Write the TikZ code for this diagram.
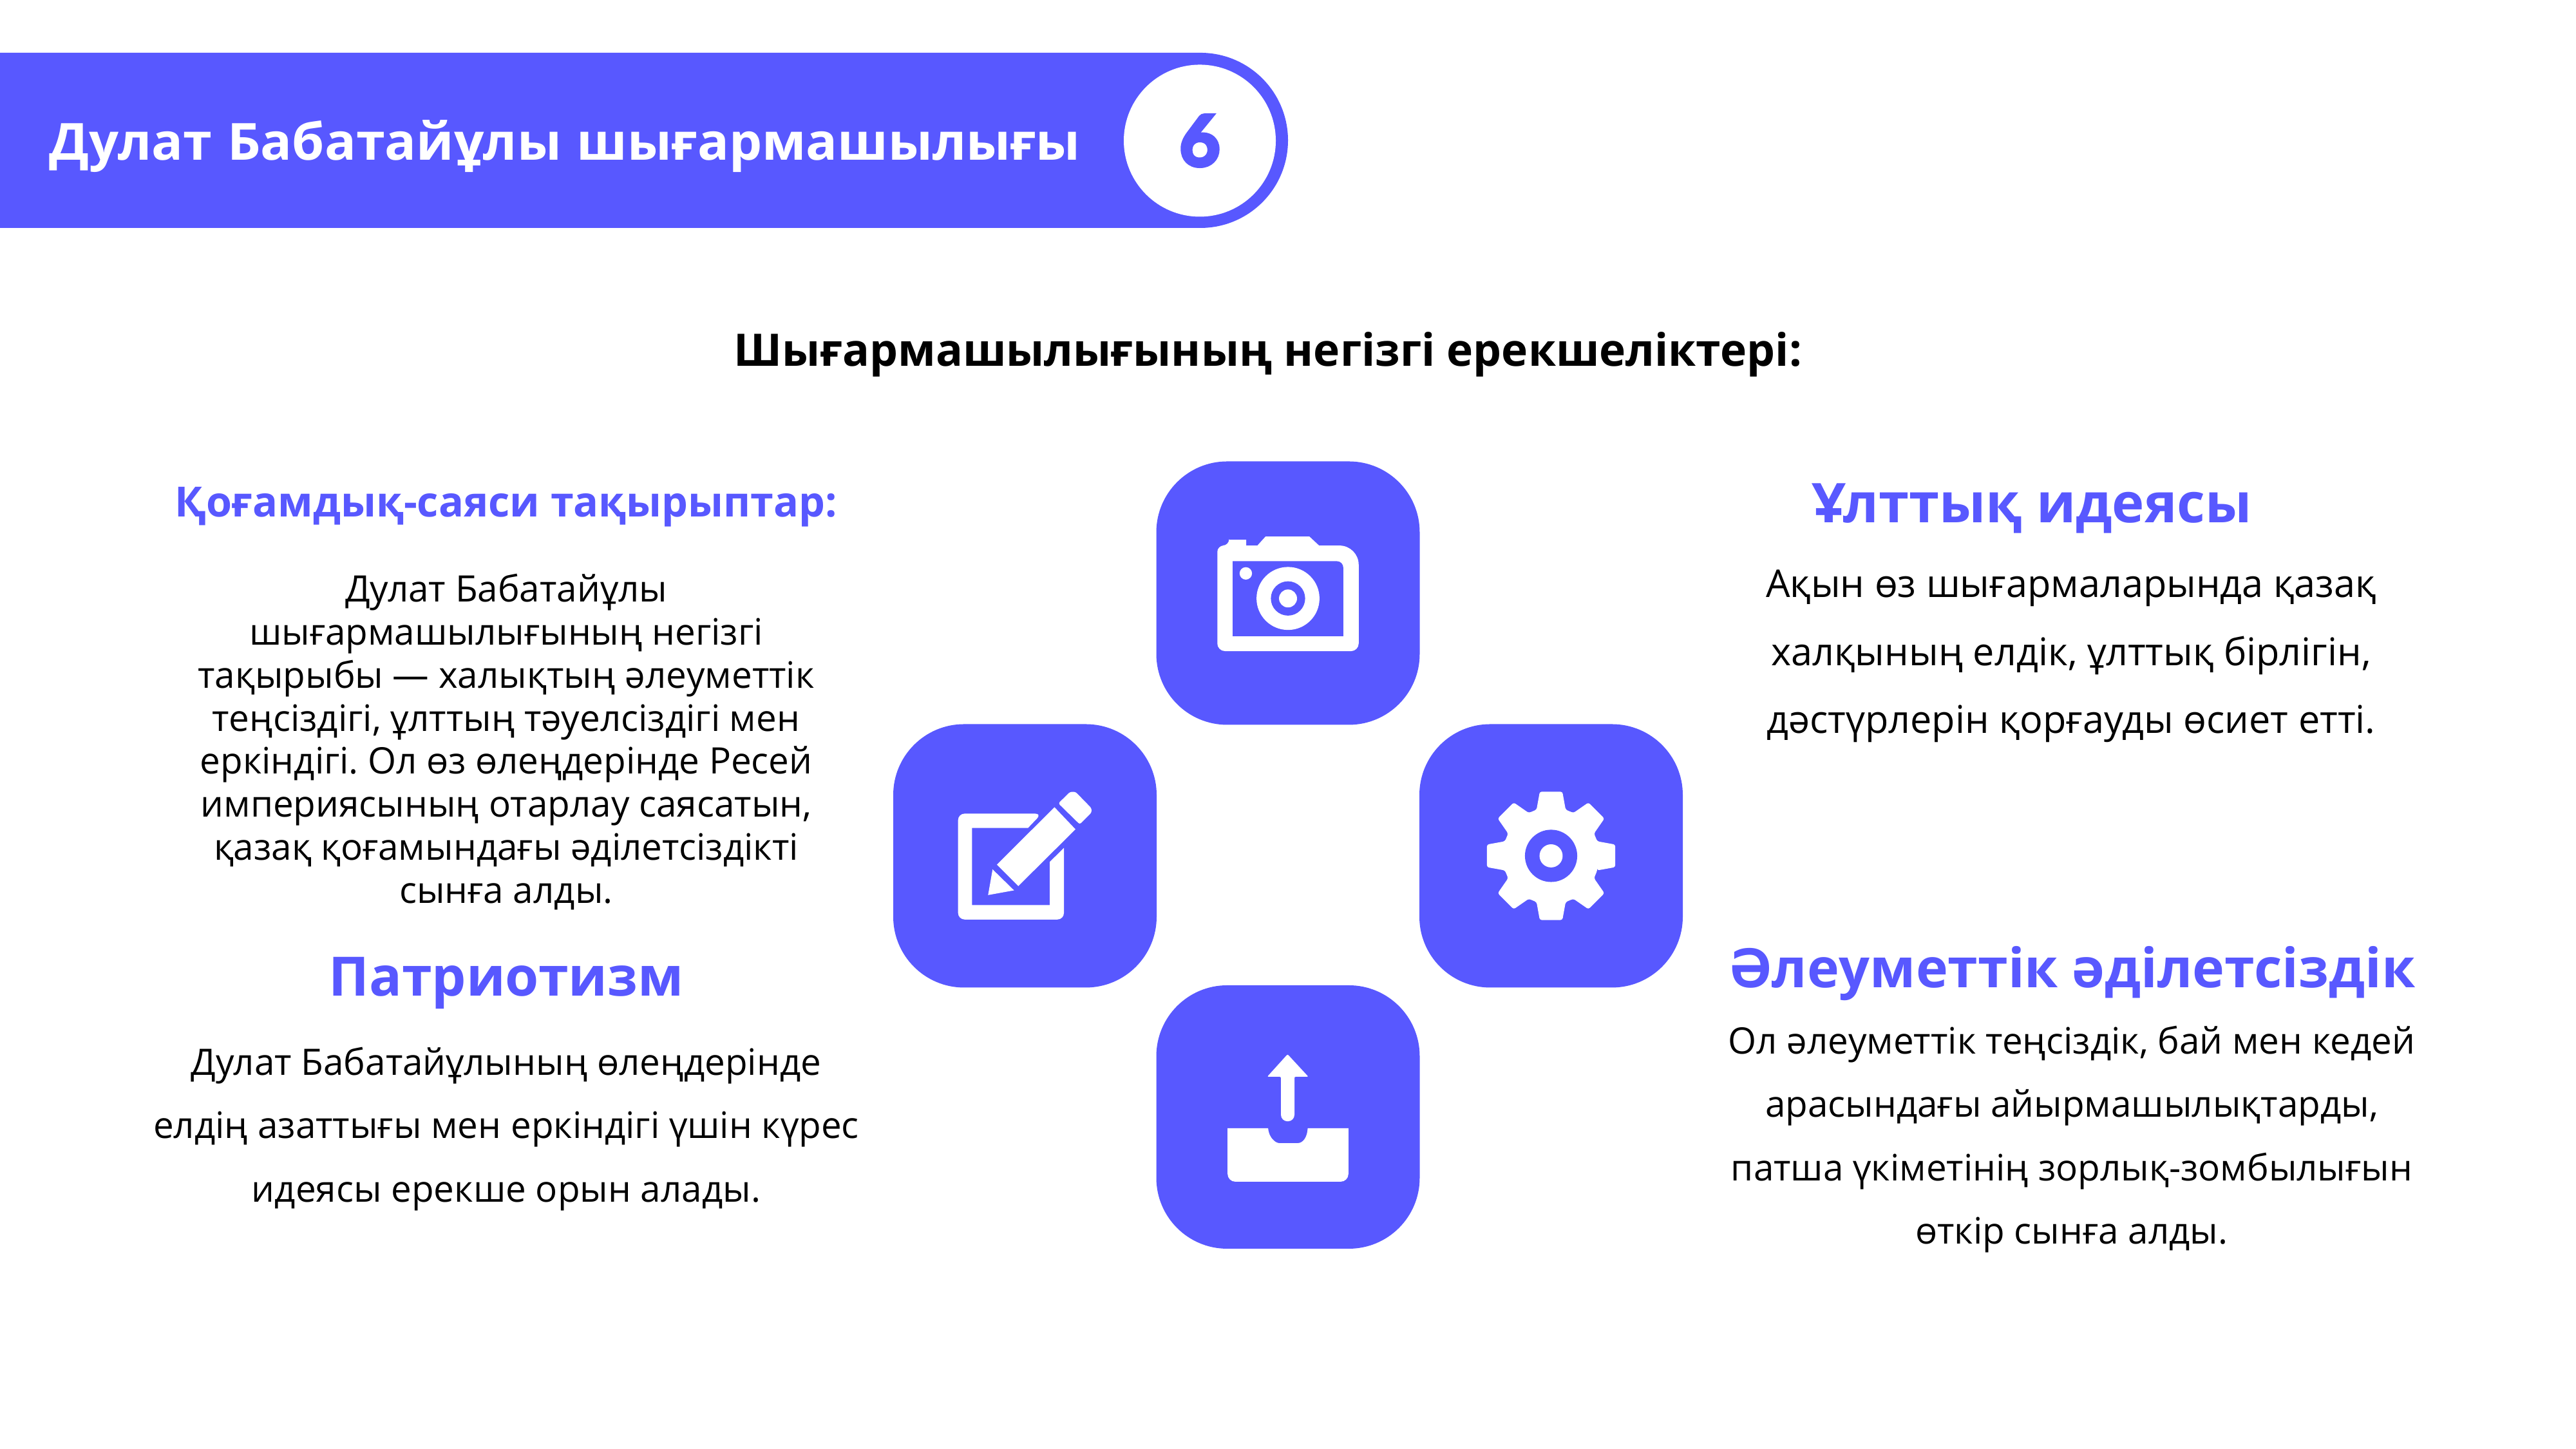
\documentclass[tikz,border=0pt]{standalone}
\usepackage{fontspec}
\setmainfont{Open Sans}
\newfontfamily\numfont{Lato}[BoldFeatures={FakeBold=5}]
\definecolor{brand}{RGB}{88,88,255}
\frenchspacing
\newcommand{\bannerfont}{\fontsize{22.6}{28}\selectfont\bfseries\spaceskip 6.7pt\relax}
\tikzset{
  icontile/.style={shape=rectangle, fill=brand, rounded corners=1.1cm, minimum size=4.09cm, inner sep=0pt},
  headtext/.style={text=brand, font=\fontsize{24}{28}\selectfont\bfseries, inner sep=0pt},
  paratext/.style={align=center, text=black, inner sep=0pt},
  iconunit/.style={x=0.003333cm, y=0.003333cm}
}
\begin{document}
\begin{tikzpicture}
\useasboundingbox (0,0) rectangle (40,22.5);
\fill[white] (0,0) rectangle (40,22.5);
% banner
\fill[brand] (0,21.68) -- (18.64,21.68) arc (90:-90:1.36) -- (0,18.96) -- cycle;
\node[shape=circle, fill=white, minimum size=2.36cm, inner sep=0pt, text=brand, font=\numfont\fontsize{31}{36}\selectfont\bfseries](num) at (18.63,20.315) {6};
\node[anchor=base west, text=white, inner sep=0pt, font=\bannerfont, xscale=1.02](banner) at (0.76,20.01) {Дулат Бабатайұлы шығармашылығы};
\node[text=black, inner sep=0pt, font=\fontsize{19.8}{25}\selectfont\bfseries](subtitle) at (19.69,17.0) {Шығармашылығының негізгі ерекшеліктері:};
% tiles
\node[icontile](camtile) at (20,13.29) {};
\node[icontile](pentile) at (15.915,9.21) {};
\node[icontile](geartile) at (24.085,9.21) {};
\node[icontile](uptile) at (20,5.155) {};
% camera
\begin{scope}[shift={(camtile.center)}, iconunit]
\fill[white, rounded corners=0.1cm] (-330,-271) -- (-330,222) -- (-275,222) [sharp corners] -- (-275,249) -- (-195,249) -- (-195,222) -- (-143,222) -- (-105,264) -- (100,264) -- (145,222) -- (240,222) arc (90:0:90) [rounded corners=0.12cm] -- (330,-271) -- cycle;
\fill[brand] (-258,149) -- (228,149) arc (90:0:30) -- (258,-201) -- (-258,-201) -- cycle;
\fill[white] (0,-25) circle (147);
\fill[brand] (0,-25) circle (80);
\fill[white] (0,-25) circle (42);
\fill[white] (-197,92) circle (29);
\end{scope}
% pencil
\begin{scope}[shift={(pentile.center)}, iconunit]
\fill[white, rounded corners=0.1cm] (78,197) [sharp corners] -- (14,130) -- (-247,130) -- (-247,-230) -- (116,-230) -- (116,-28) -- (182,37) [rounded corners=0.1cm] -- (182,-297) -- (-312,-297) -- (-312,197) -- cycle;
\fill[white] (138,227) -- (236,124) -- (-31,-141) -- (-131,-41) -- cycle;
\fill[white] (-151,-63) -- (-51,-161) -- (-172,-183) -- cycle;
\fill[white, rounded corners=0.03cm] (156,245) -- (211,299) -- (236,299) -- (311,222) -- (311,202) -- (256,147) -- cycle;
\end{scope}
% gear
\begin{scope}[shift={(geartile.center)}, iconunit]
\fill[white, rounded corners=0.03cm] (-17.5:226) \foreach \a in {0,45,...,315} { -- (\a-17.5:226) -- (\a-10:304) -- (\a+10:304) -- (\a+17.5:226)} -- cycle;
\fill[brand] (0,0) circle (122);
\fill[white] (0,0) circle (54);
\end{scope}
% upload
\begin{scope}[shift={(uptile.center)}, iconunit]
\fill[white, rounded corners=0.02cm] (-2,293) -- (95,188) -- (30,188) [rounded corners=0.1cm] -- (30,-20) -- (-33,-20) [rounded corners=0.02cm] -- (-33,188) -- (-97,188) -- cycle;
\fill[white] (-282,-52) -- (-93,-52) .. controls (-90,-95) and (-60,-122) .. (-40,-122) -- (45,-122) .. controls (70,-122) and (90,-95) .. (92,-52) -- (282,-52) [rounded corners=0.12cm] -- (282,-302) -- (-282,-302) [sharp corners] -- cycle;
\end{scope}
% texts
\node[headtext, font=\fontsize{18.4}{22}\selectfont\bfseries](socialtitle) at (7.86,14.63) {Қоғамдық-саяси тақырыптар:};
\node[paratext, font=\fontsize{16.1}{19}\selectfont](socialtext) at (7.86,10.98) {Дулат Бабатайұлы\\шығармашылығының негізгі\\тақырыбы — халықтың әлеуметтік\\теңсіздігі, ұлттың тәуелсіздігі мен\\еркіндігі. Ол өз өлеңдерінде Ресей\\империясының отарлау саясатын,\\қазақ қоғамындағы әділетсіздікті\\сынға алды.};
\node[headtext](patrhead) at (7.86,7.23) {Патриотизм};
\node[paratext, font=\fontsize{16.1}{28}\selectfont](patrtext) at (7.86,4.97) {Дулат Бабатайұлының өлеңдерінде\\елдің азаттығы мен еркіндігі үшін күрес\\идеясы ерекше орын алады.};
\node[headtext, font=\fontsize{24.2}{28}\selectfont\bfseries](nathead) at (31.55,14.6) {Ұлттық идеясы};
\node[paratext, font=\fontsize{16.9}{30}\selectfont](nattext) at (32.16,12.31) {Ақын өз шығармаларында қазақ\\халқының елдік, ұлттық бірлігін,\\дәстүрлерін қорғауды өсиет етті.};
\node[headtext](justhead) at (32.17,7.38) {Әлеуметтік әділетсіздік};
\node[paratext, font=\fontsize{16.1}{28}\selectfont](justtext) at (32.17,4.81) {Ол әлеуметтік теңсіздік, бай мен кедей\\арасындағы айырмашылықтарды,\\патша үкіметінің зорлық-зомбылығын\\өткір сынға алды.};
\end{tikzpicture}
\end{document}
